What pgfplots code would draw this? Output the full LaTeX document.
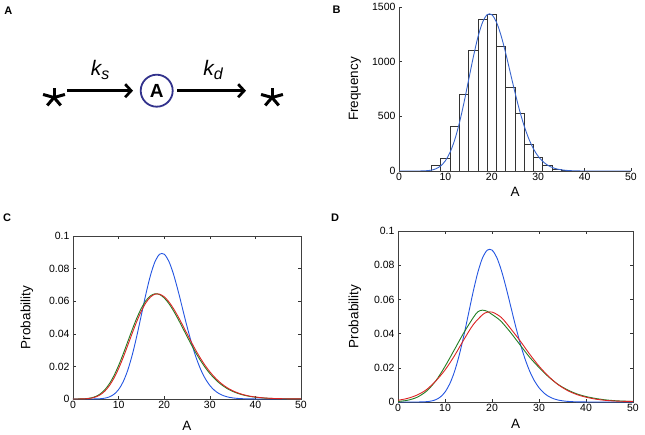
\documentclass[border=0pt]{standalone}
\usepackage{fontspec}
\setmainfont{Liberation Sans}
\usepackage{pgfplots}
\pgfplotsset{compat=1.18}
\usetikzlibrary{arrows.meta}

\definecolor{mblue}{RGB}{35,85,225}
\definecolor{mred}{RGB}{220,35,35}
\definecolor{mgreen}{RGB}{35,125,35}
\definecolor{hblue}{RGB}{55,100,205}
\definecolor{circ}{RGB}{50,50,140}

\pgfplotsset{
  panel/.style={
    scale only axis,
    xmin=0, xmax=50, xtick={0,10,20,30,40,50},
    tick align=inside,
    major tick length=3pt,
    tick style={black!80, line width=0.4pt},
    axis line style={black!75, line width=0.5pt},
    /pgf/number format/assume math mode=true,
    tick label style={font=\fontsize{10.5}{12}\selectfont},
    xticklabel style={yshift=1pt},
    label style={font=\fontsize{13.5}{15}\selectfont},
    xlabel={A},
    every axis plot/.append style={line width=0.9pt},
  },
  probax/.style={
    ymin=0, ymax=0.1,
    ytick={0,0.02,0.04,0.06,0.08,0.1},
    yticklabels={0,0.02,0.04,0.06,0.08,0.1},
    scaled y ticks=false,
    ylabel={Probability},
  }
}

% Poisson-like distribution (blue), read from panels C and D
\pgfplotstableread{
x y
0 0
2 0
3 0.000003
4 0.000014
5 0.000055
6 0.000183
7 0.000523
8 0.001309
9 0.002908
10 0.005816
11 0.010575
12 0.017625
13 0.027116
14 0.038737
15 0.051649
16 0.064561
17 0.075954
18 0.084394
19 0.088835
20 0.088835
21 0.084605
22 0.076914
23 0.066881
24 0.055735
25 0.044588
26 0.034298
27 0.025406
28 0.018147
29 0.012515
30 0.008344
31 0.005383
32 0.003364
33 0.002039
34 0.001199
35 0.000685
36 0.000381
37 0.000206
38 0.000108
39 0.000055
40 0.000028
42 0
50 0
}\blueT

\pgfplotstableread{
x y
0 0
2 0.00005
3 0.00018
4 0.00053
5 0.00127
6 0.00264
7 0.00490
8 0.00827
9 0.01287
10 0.01866
11 0.02544
12 0.03286
13 0.04044
14 0.04766
15 0.05402
16 0.05908
17 0.06256
18 0.06430
19 0.06430
20 0.06269
21 0.05971
22 0.05563
23 0.05080
24 0.04551
25 0.04005
26 0.03466
27 0.02952
28 0.02478
29 0.02051
30 0.01675
31 0.01351
32 0.01076
33 0.00848
34 0.00661
35 0.00510
36 0.00390
37 0.00295
38 0.00221
39 0.00164
40 0.00121
41 0.00089
42 0.00064
43 0.00046
44 0.00033
46 0.00017
48 0.00008
50 0.00004
}\redC

\pgfplotstableread{
x y
0 0
2 0.00007
3 0.00025
4 0.00070
5 0.00159
6 0.00318
7 0.00575
8 0.00946
9 0.01443
10 0.02055
11 0.02757
12 0.03511
13 0.04266
14 0.04970
15 0.05573
16 0.06036
17 0.06334
18 0.06456
19 0.06406
20 0.06200
21 0.05865
22 0.05429
23 0.04928
24 0.04390
25 0.03842
26 0.03308
27 0.02804
28 0.02343
29 0.01931
30 0.01570
31 0.01261
32 0.01000
33 0.00786
34 0.00610
35 0.00469
36 0.00358
37 0.00270
38 0.00202
39 0.00149
40 0.00110
42 0.00058
44 0.00030
46 0.00015
48 0.00007
50 0.00003
}\greenC

\pgfplotstableread{
x y
0 0.0010
2 0.0021
4 0.0040
6 0.0071
8 0.0122
10 0.0187
12 0.0270
14 0.0364
16 0.0452
18 0.0511
19 0.0525
20 0.0526
21 0.0513
22 0.0494
23 0.0463
24 0.0428
26 0.0357
28 0.0280
30 0.0210
32 0.0151
34 0.0103
36 0.0068
38 0.0044
40 0.0028
42 0.0017
44 0.0010
46 0.0006
48 0.0004
50 0.0003
}\redD

\pgfplotstableread{
x y
0 0.0003
2 0.0010
4 0.0027
6 0.0062
8 0.0122
10 0.0208
12 0.0306
14 0.0405
16 0.0493
17 0.0528
18 0.0537
19 0.0530
20 0.0512
21 0.0493
22 0.0470
24 0.0405
26 0.0333
28 0.0262
30 0.0202
32 0.0148
34 0.0104
36 0.0072
38 0.0048
40 0.0032
42 0.0021
44 0.0013
46 0.0008
48 0.0005
50 0.0004
}\greenD

\pgfplotstableread{
x y
0 0
4 0
5 1
6 3
7 8
8 21
9 47
10 94
11 170
12 284
13 437
14 624
15 832
16 1039
17 1223
18 1359
19 1430
20 1430
21 1362
22 1238
23 1077
24 897
25 718
26 552
27 409
28 292
29 201
30 134
31 87
32 54
33 33
34 19
35 11
36 6
37 3
38 2
39 1
40 0
50 0
}\fitB

\begin{document}
\begin{tikzpicture}[x=1pt,y=1pt]
\useasboundingbox (0,0) rectangle (645,434);

% panel letters
\node[font=\bfseries\fontsize{11}{12}\selectfont] at (8.3,423.5) {A};
\node[font=\bfseries\fontsize{11}{12}\selectfont] at (336.5,424) {B};
\node[font=\bfseries\fontsize{11}{12}\selectfont] at (7,216.5) {C};
\node[font=\bfseries\fontsize{11}{12}\selectfont] at (335,216.5) {D};

% panel A: reaction scheme
\begin{scope}[shift={(54,336.5)}, xscale=1.0, yscale=0.85, line width=3pt]
  \foreach \a in {90,18,162,234,306} \draw (0,0) -- (\a:11.5);
\end{scope}
\begin{scope}[shift={(272,336.5)}, xscale=1.0, yscale=0.85, line width=3pt]
  \foreach \a in {90,18,162,234,306} \draw (0,0) -- (\a:11.5);
\end{scope}
\draw[line width=2.7pt, -{Straight Barb[length=6pt,width=13pt]}] (67,343.3) -- (133,343.3);
\draw[line width=2.7pt, -{Straight Barb[length=6pt,width=13pt]}] (177,343.3) -- (246,343.3);
\draw[circ, line width=1.8pt] (156.7,343.3) circle (16);
\node[font=\bfseries\fontsize{19}{20}\selectfont] at (156.7,343.3) {A};
\node[font=\itshape\fontsize{21}{22}\selectfont, anchor=base] at (100,358) {k\raisebox{-4pt}{\fontsize{16}{17}\selectfont s}};
\node[font=\itshape\fontsize{21}{22}\selectfont, anchor=base] at (213,358) {k\raisebox{-4pt}{\fontsize{16}{17}\selectfont d}};

% panel B: histogram
\begin{axis}[panel,
  at={(399pt,263pt)}, anchor=south west,
  width=232pt, height=164pt,
  axis x line*=bottom, axis y line*=left,
  ymin=0, ymax=1500, ytick={0,500,1000,1500},
  yticklabels={0,500,1000,1500},
  ylabel={Frequency},
  xlabel style={at={(axis description cs:0.5,-0.128)}, anchor=center},
  ylabel style={at={(axis description cs:-0.19,0.5)}, anchor=center},
]
\addplot[ybar interval, fill=white, draw=black!80, line width=0.7pt] coordinates {
(7,52) (9,115) (11,405) (13,697) (15,1101) (17,1390) (19,1433) (21,1144) (23,767) (25,523) (27,246) (29,122) (31,49) (33,18) (35,9) (37,0)};
\addplot[hblue, smooth, no marks] table {\fitB};
\end{axis}

% panel C
\begin{axis}[panel, probax,
  at={(73pt,35pt)}, anchor=south west,
  width=228pt, height=163pt,
  xlabel style={at={(axis description cs:0.5,-0.166)}, anchor=center},
  ylabel style={at={(axis description cs:-0.202,0.5)}, anchor=center},
]
\addplot[mblue, smooth, no marks] table {\blueT};
\addplot[mgreen, smooth, no marks] table {\greenC};
\addplot[mred, smooth, no marks] table {\redC};
\end{axis}

% panel D
\begin{axis}[panel, probax,
  at={(398pt,32pt)}, anchor=south west,
  width=235pt, height=171pt,
  xlabel style={at={(axis description cs:0.5,-0.125)}, anchor=center},
  ylabel style={at={(axis description cs:-0.183,0.5)}, anchor=center},
]
\addplot[mblue, smooth, no marks] table {\blueT};
\addplot[mgreen, smooth, no marks] table {\greenD};
\addplot[mred, smooth, no marks] table {\redD};
\end{axis}
\end{tikzpicture}
\end{document}
